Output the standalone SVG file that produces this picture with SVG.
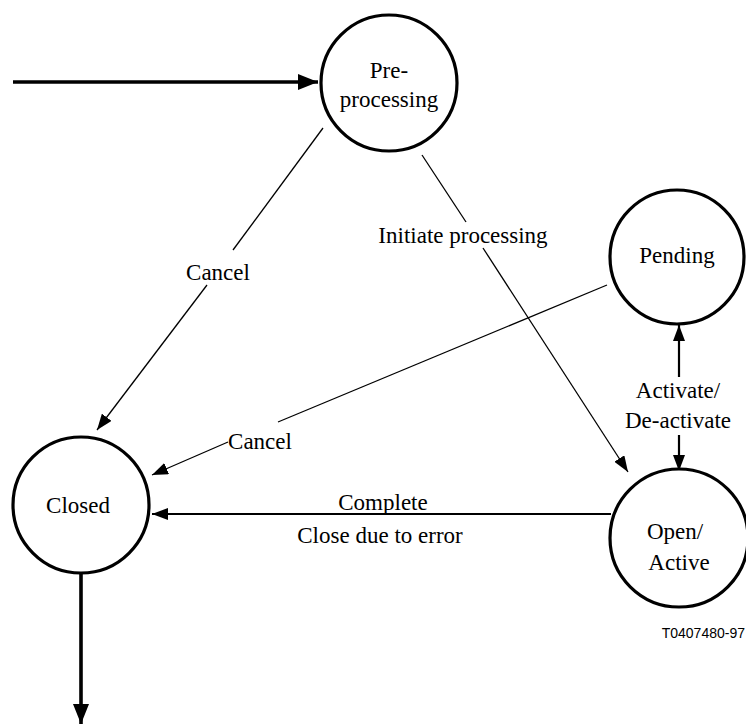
<svg xmlns="http://www.w3.org/2000/svg" width="746" height="724" viewBox="0 0 746 724">
<style>
.node{fill:#fff;stroke:#000;stroke-width:3.2}
.lbl{font-size:23px;fill:#000;text-anchor:middle}
.thin{stroke:#000;stroke-width:1.3;fill:none}
.mid{stroke:#000;stroke-width:2.2;fill:none}
.thick{stroke:#000;stroke-width:3.6;fill:none}
</style>
<defs>
<marker id="ah" markerUnits="userSpaceOnUse" markerWidth="16" markerHeight="12" refX="16" refY="6" orient="auto">
<path d="M0,0 L16,6 L0,12 z" fill="#000"/>
</marker>
<marker id="ahb" markerUnits="userSpaceOnUse" markerWidth="20" markerHeight="16" refX="20" refY="8" orient="auto">
<path d="M0,0 L20,8 L0,16 z" fill="#000"/>
</marker>
</defs>
<rect width="746" height="724" fill="#fff"/>
<g font-family="Liberation Serif, Times New Roman, DejaVu Serif, serif">
<g id="connectors">
<line class="thick" x1="13" y1="82" x2="318" y2="82" marker-end="url(#ahb)"/>
<line class="thick" x1="81" y1="573" x2="81" y2="724" marker-end="url(#ahb)"/>
<line class="thin" x1="323" y1="128" x2="233" y2="250"/>
<line class="thin" x1="207" y1="285" x2="97" y2="430" marker-end="url(#ah)"/>
<line class="thin" x1="422" y1="155" x2="466" y2="222"/>
<line class="thin" x1="483" y1="248" x2="628" y2="472" marker-end="url(#ah)"/>
<line class="thin" x1="607" y1="285" x2="278" y2="422"/>
<line class="thin" x1="228" y1="442" x2="152" y2="475" marker-end="url(#ah)"/>
<line class="mid" x1="611" y1="514" x2="152" y2="514" marker-end="url(#ah)"/>
<line class="mid" x1="679" y1="377" x2="679" y2="325" marker-end="url(#ah)"/>
<line class="mid" x1="679" y1="435" x2="679" y2="471" marker-end="url(#ah)"/>
<text class="lbl" x="218" y="280">Cancel</text>
<text class="lbl" x="463" y="243">Initiate processing</text>
<text class="lbl" x="260" y="449">Cancel</text>
<text class="lbl" x="383" y="510">Complete</text>
<text class="lbl" x="380" y="543">Close due to error</text>
<text class="lbl" x="678" y="398">Activate/</text>
<text class="lbl" x="678" y="428">De-activate</text>
</g>
<g id="preprocessing">
<circle class="node" cx="389" cy="83" r="68"/>
<text class="lbl" x="389" y="78">Pre-</text>
<text class="lbl" x="389" y="107">processing</text>
</g>
<g id="pending">
<circle class="node" cx="677" cy="257" r="67"/>
<text class="lbl" x="677" y="263">Pending</text>
</g>
<g id="closed">
<circle class="node" cx="81" cy="505" r="68"/>
<text class="lbl" x="78" y="513">Closed</text>
</g>
<g id="openactive">
<circle class="node" cx="679" cy="538" r="69"/>
<text class="lbl" x="675" y="539">Open/</text>
<text class="lbl" x="679" y="570">Active</text>
</g>
</g>
<text x="745" y="638" font-family="Liberation Sans, Arial, sans-serif" font-size="14" text-anchor="end">T0407480-97</text>
</svg>
